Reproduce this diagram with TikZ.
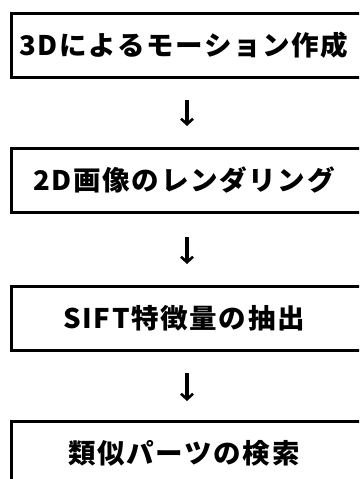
\documentclass[tikz,border=0pt]{standalone}
\usepackage{fontspec}
\setmainfont{Noto Sans CJK JP}
\usetikzlibrary{arrows.meta}
\newcommand{\steptxt}[1]{\scalebox{1.02}[1]{#1}\kern6pt}
\tikzset{
  stepbox/.style={draw=black, line width=3pt, minimum width=352pt, minimum height=64pt, inner sep=0pt, font=\fontsize{27pt}{30pt}\selectfont\bfseries\addfontfeature{LetterSpace=6}, anchor=center},
  flowarrow/.style={draw=black, line width=3.2pt, -{Straight Barb[length=5.5pt,width=12pt,line width=2.6pt]}}
}
\begin{document}
\begin{tikzpicture}[x=1pt,y=-1pt]
\useasboundingbox (0,0) rectangle (359,479);
\clip (0,0) rectangle (359,479);
\fill[white] (0,0) rectangle (359,479);
\node[stepbox] (b1) at (187,45.5) {\steptxt{3Dによるモーション作成}};
\node[stepbox] (b2) at (187,180) {\steptxt{2D画像のレンダリング}};
\node[stepbox] (b3) at (187,318) {\steptxt{SIFT特徴量の抽出}};
\node[stepbox] (b4) at (187,453) {\steptxt{類似パーツの検索}};
\draw[flowarrow, shorten <=21pt, shorten >=20.5pt] (b1.south) -- (b2.north);
\draw[flowarrow, shorten <=23.5pt, shorten >=20.5pt] (b2.south) -- (b3.north);
\draw[flowarrow, shorten <=21.5pt, shorten >=18.5pt] (b3.south) -- (b4.north);
\end{tikzpicture}
\end{document}
